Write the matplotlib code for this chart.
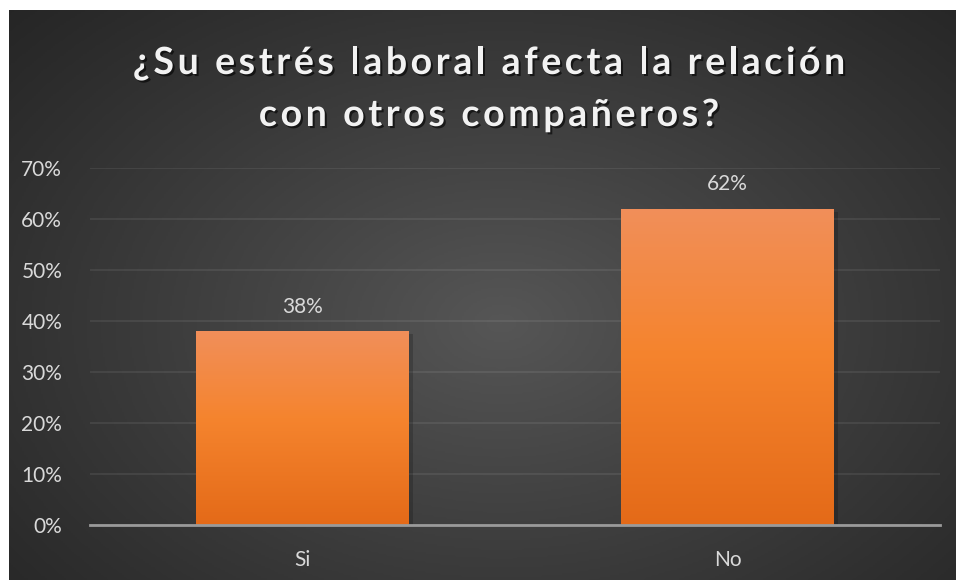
import numpy as np
import matplotlib.pyplot as plt
import matplotlib.patheffects as pe
from matplotlib.colors import LinearSegmentedColormap
from matplotlib.font_manager import FontProperties

# Survey answers
categories = ["Si", "No"]
shares = [0.38, 0.62]
share_labels = ["38%", "62%"]
y_ticks = [0.0, 0.1, 0.2, 0.3, 0.4, 0.5, 0.6, 0.7]
y_tick_labels = ["0%", "10%", "20%", "30%", "40%", "50%", "60%", "70%"]
title_lines = ["¿Su estrés laboral afecta la relación", "con otros compañeros?"]

W, H, DPI = 956, 580, 100
label_color = "#D9D9D9"
font = "Lato"
label_size = 15

fig = plt.figure(figsize=(W / DPI, H / DPI), dpi=DPI)
fig.patch.set_facecolor("white")

# dark panel with a soft radial glow
bg = fig.add_axes([9 / W, 0, 1 - 9 / W, 1 - 10 / H])
bg.set_axis_off()
yy, xx = np.mgrid[0:1:300j, 0:1:500j]
r = np.sqrt(((xx - 0.52) / 0.75) ** 2 + ((yy - 0.55) / 0.85) ** 2)
glow = np.clip(1 - r, 0, 1) ** 1.1
bg_cmap = LinearSegmentedColormap.from_list("panel", ["#242424", "#565656"])
bg.imshow(glow, cmap=bg_cmap, aspect="auto", extent=[0, 1, 0, 1], vmin=0, vmax=1)
bg.set_xlim(0, 1)
bg.set_ylim(0, 1)

ax = fig.add_axes([90 / W, 55 / H, 850 / W, 357 / H])
ax.patch.set_alpha(0)
x = np.arange(len(categories))
bars = ax.bar(x, shares, width=0.5, color="#F5822C", zorder=3)

# vertical orange gradient on each bar
bar_cmap = LinearSegmentedColormap.from_list(
    "bar", [(0.0, "#E46A18"), (0.55, "#F5842E"), (1.0, "#F18F5A")]
)
grad = np.linspace(0, 1, 256).reshape(-1, 1)
for b in bars:
    b.set_path_effects([pe.SimplePatchShadow(offset=(3, -2), alpha=0.18, shadow_rgbFace="black")])
    x0, y0, w, h = b.get_x(), b.get_y(), b.get_width(), b.get_height()
    im = ax.imshow(grad, cmap=bar_cmap, aspect="auto", origin="lower",
                   extent=[x0, x0 + w, y0, y0 + h], zorder=4)
    im.set_clip_path(b)

for xi, v, lab in zip(x, shares, share_labels):
    ax.text(xi, v + 0.036, lab, ha="center", va="baseline", color=label_color,
            fontsize=label_size, family=font, zorder=5)

ax.set_xlim(-0.5, len(categories) - 0.5)
ax.set_ylim(0, 0.7)
ax.set_yticks(y_ticks)
ax.set_yticklabels(y_tick_labels)
ax.set_xticks(x)
ax.set_xticklabels(categories)
ax.tick_params(axis="both", length=0, colors=label_color, labelsize=label_size)
ax.tick_params(axis="y", pad=20)
ax.tick_params(axis="x", pad=18)
for t in ax.get_xticklabels() + ax.get_yticklabels():
    t.set_family(font)
ax.grid(axis="y", color="white", alpha=0.09, linewidth=1.2, zorder=1)
for s in ["top", "right", "left"]:
    ax.spines[s].set_visible(False)
ax.spines["bottom"].set_color("#9A9A9A")
ax.spines["bottom"].set_linewidth(2)
ax.spines["bottom"].set_zorder(6)

# title drawn letter by letter to get the wide tracking
renderer = fig.canvas.get_renderer()
prop = FontProperties(family=font, weight="bold", size=27)
shadow = [pe.withSimplePatchShadow(offset=(1.5, -1.5), alpha=0.6, shadow_rgbFace="black")]


def spaced_line(text, y_px, spacing, center_px=489):
    widths = [renderer.get_text_width_height_descent(c, prop, ismath=False)[0] for c in text]
    total = sum(widths) + spacing * (len(text) - 1)
    xpos = center_px - total / 2
    for c, w in zip(text, widths):
        fig.text(xpos / W, 1 - y_px / H, c, fontproperties=prop, color="#F2F2F2",
                 ha="left", va="baseline", path_effects=shadow)
        xpos += w + spacing


spaced_line(title_lines[0], 74, 3.6)
spaced_line(title_lines[1], 126, 3.6)

fig.savefig("out.png", dpi=DPI, facecolor=fig.get_facecolor())
